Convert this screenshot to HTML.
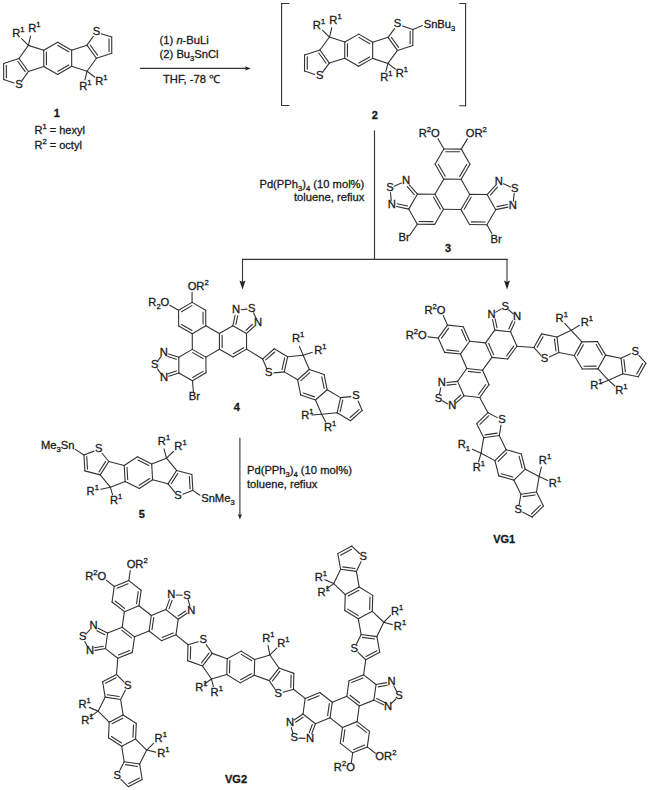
<!DOCTYPE html><html><head><meta charset="utf-8"><style>html,body{margin:0;padding:0;background:#fff;width:650px;height:790px;overflow:hidden}svg{display:block}</style></head><body><svg width="650" height="790" viewBox="0 0 650 790"><g stroke="#333" stroke-width="1.1" stroke-linecap="round" fill="none"><line x1="57.65" y1="42.21" x2="71.63" y2="50.22"/><line x1="57.87" y1="45.45" x2="68.73" y2="51.67"/><line x1="71.63" y1="50.22" x2="71.68" y2="66.34"/><line x1="71.68" y1="66.34" x2="57.75" y2="74.44"/><line x1="68.77" y1="64.91" x2="57.95" y2="71.20"/><line x1="57.75" y1="74.44" x2="43.77" y2="66.43"/><line x1="43.77" y1="66.43" x2="43.72" y2="50.31"/><line x1="46.46" y1="64.62" x2="46.42" y2="52.10"/><line x1="43.72" y1="50.31" x2="57.65" y2="42.21"/><line x1="43.72" y1="50.31" x2="28.38" y2="45.38"/><line x1="28.38" y1="45.38" x2="18.95" y2="58.45"/><line x1="18.95" y1="58.45" x2="28.46" y2="71.46"/><line x1="17.83" y1="61.50" x2="25.22" y2="71.60"/><line x1="28.46" y1="71.46" x2="43.77" y2="66.43"/><line x1="28.46" y1="71.46" x2="22.07" y2="80.31"/><line x1="14.08" y1="82.93" x2="3.69" y2="79.59"/><line x1="3.69" y1="79.59" x2="3.64" y2="63.48"/><line x1="6.38" y1="77.79" x2="6.34" y2="65.27"/><line x1="3.64" y1="63.48" x2="18.95" y2="58.45"/><line x1="71.68" y1="66.34" x2="87.02" y2="71.27"/><line x1="87.02" y1="71.27" x2="96.45" y2="58.20"/><line x1="96.45" y1="58.20" x2="86.94" y2="45.19"/><line x1="97.57" y1="55.15" x2="90.18" y2="45.05"/><line x1="86.94" y1="45.19" x2="71.63" y2="50.22"/><line x1="86.94" y1="45.19" x2="93.33" y2="36.34"/><line x1="101.32" y1="33.72" x2="111.71" y2="37.06"/><line x1="111.71" y1="37.06" x2="111.76" y2="53.17"/><line x1="109.02" y1="38.86" x2="109.06" y2="51.38"/><line x1="111.76" y1="53.17" x2="96.45" y2="58.20"/><line x1="28.38" y1="45.38" x2="21.59" y2="38.59"/><line x1="28.38" y1="45.38" x2="30.60" y2="36.04"/><line x1="87.02" y1="71.27" x2="84.91" y2="79.97"/><line x1="87.02" y1="71.27" x2="94.63" y2="77.06"/><line x1="358.79" y1="34.11" x2="372.70" y2="42.25"/><line x1="358.98" y1="37.35" x2="369.78" y2="43.67"/><line x1="372.70" y1="42.25" x2="372.61" y2="58.36"/><line x1="372.61" y1="58.36" x2="358.61" y2="66.34"/><line x1="369.71" y1="56.91" x2="358.84" y2="63.10"/><line x1="358.61" y1="66.34" x2="344.70" y2="58.20"/><line x1="344.70" y1="58.20" x2="344.79" y2="42.09"/><line x1="347.41" y1="56.42" x2="347.48" y2="43.91"/><line x1="344.79" y1="42.09" x2="358.79" y2="34.11"/><line x1="344.79" y1="42.09" x2="329.49" y2="37.02"/><line x1="329.49" y1="37.02" x2="319.95" y2="50.01"/><line x1="319.95" y1="50.01" x2="329.35" y2="63.10"/><line x1="318.81" y1="53.04" x2="326.10" y2="63.21"/><line x1="329.35" y1="63.10" x2="344.70" y2="58.20"/><line x1="329.35" y1="63.10" x2="322.88" y2="71.89"/><line x1="314.87" y1="74.45" x2="304.51" y2="71.02"/><line x1="304.51" y1="71.02" x2="304.60" y2="54.90"/><line x1="307.22" y1="69.23" x2="307.29" y2="56.72"/><line x1="304.60" y1="54.90" x2="319.95" y2="50.01"/><line x1="372.61" y1="58.36" x2="387.91" y2="63.43"/><line x1="387.91" y1="63.43" x2="397.45" y2="50.44"/><line x1="397.45" y1="50.44" x2="388.05" y2="37.35"/><line x1="398.59" y1="47.41" x2="391.30" y2="37.24"/><line x1="388.05" y1="37.35" x2="372.70" y2="42.25"/><line x1="388.05" y1="37.35" x2="394.52" y2="28.56"/><line x1="402.53" y1="26.00" x2="412.89" y2="29.43"/><line x1="412.89" y1="29.43" x2="412.80" y2="45.55"/><line x1="410.18" y1="31.22" x2="410.11" y2="43.73"/><line x1="412.80" y1="45.55" x2="397.45" y2="50.44"/><line x1="329.49" y1="37.02" x2="322.60" y2="30.34"/><line x1="329.49" y1="37.02" x2="331.77" y2="27.70"/><line x1="387.91" y1="63.43" x2="385.87" y2="71.48"/><line x1="387.91" y1="63.43" x2="395.24" y2="69.05"/><line x1="412.89" y1="29.43" x2="422.50" y2="25.60"/><line x1="460.93" y1="209.43" x2="443.52" y2="209.32"/><line x1="434.92" y1="194.19" x2="443.72" y2="179.17"/><line x1="461.13" y1="179.28" x2="469.73" y2="194.42"/><line x1="443.72" y1="179.17" x2="461.13" y2="179.28"/><line x1="443.91" y1="149.02" x2="461.32" y2="149.13"/><line x1="445.70" y1="151.73" x2="459.50" y2="151.82"/><line x1="461.32" y1="149.13" x2="469.93" y2="164.27"/><line x1="469.93" y1="164.27" x2="461.13" y2="179.28"/><line x1="466.69" y1="164.45" x2="459.71" y2="176.37"/><line x1="443.72" y1="179.17" x2="435.11" y2="164.04"/><line x1="445.18" y1="176.27" x2="438.35" y2="164.27"/><line x1="435.11" y1="164.04" x2="443.91" y2="149.02"/><line x1="434.92" y1="194.19" x2="443.52" y2="209.32"/><line x1="433.46" y1="197.09" x2="440.29" y2="209.09"/><line x1="443.52" y1="209.32" x2="434.72" y2="224.34"/><line x1="434.72" y1="224.34" x2="417.32" y2="224.23"/><line x1="432.94" y1="221.63" x2="419.13" y2="221.54"/><line x1="417.32" y1="224.23" x2="408.71" y2="209.10"/><line x1="408.71" y1="209.10" x2="417.51" y2="194.08"/><line x1="417.51" y1="194.08" x2="434.92" y2="194.19"/><line x1="460.93" y1="209.43" x2="469.73" y2="194.42"/><line x1="464.17" y1="209.25" x2="471.15" y2="197.33"/><line x1="469.73" y1="194.42" x2="487.14" y2="194.53"/><line x1="487.14" y1="194.53" x2="495.74" y2="209.66"/><line x1="495.74" y1="209.66" x2="486.94" y2="224.68"/><line x1="486.94" y1="224.68" x2="469.54" y2="224.57"/><line x1="485.16" y1="221.97" x2="471.35" y2="221.88"/><line x1="469.54" y1="224.57" x2="460.93" y2="209.43"/><line x1="417.51" y1="194.08" x2="409.27" y2="184.80"/><line x1="414.30" y1="194.53" x2="407.25" y2="186.60"/><line x1="408.71" y1="209.10" x2="396.59" y2="206.44"/><line x1="407.53" y1="206.07" x2="397.17" y2="203.80"/><line x1="401.37" y1="183.07" x2="394.21" y2="186.20"/><line x1="391.22" y1="200.39" x2="390.45" y2="192.62"/><line x1="487.14" y1="194.53" x2="495.50" y2="185.36"/><line x1="490.35" y1="195.02" x2="497.50" y2="187.18"/><line x1="495.74" y1="209.66" x2="507.90" y2="207.16"/><line x1="496.96" y1="206.65" x2="507.35" y2="204.51"/><line x1="503.42" y1="183.73" x2="510.54" y2="186.95"/><line x1="513.35" y1="201.18" x2="514.22" y2="193.42"/><line x1="417.32" y1="224.23" x2="409.80" y2="235.30"/><line x1="486.94" y1="224.68" x2="491.80" y2="233.50"/><line x1="443.91" y1="149.02" x2="438.03" y2="138.67"/><line x1="461.32" y1="149.13" x2="467.34" y2="138.86"/><line x1="219.46" y1="349.24" x2="205.93" y2="357.14"/><line x1="192.32" y1="349.38" x2="192.25" y2="333.71"/><line x1="205.78" y1="325.81" x2="219.38" y2="333.58"/><line x1="192.25" y1="333.71" x2="205.78" y2="325.81"/><line x1="178.57" y1="310.28" x2="192.09" y2="302.38"/><line x1="181.48" y1="311.71" x2="191.90" y2="305.62"/><line x1="192.09" y1="302.38" x2="205.70" y2="310.15"/><line x1="205.70" y1="310.15" x2="205.78" y2="325.81"/><line x1="203.01" y1="311.96" x2="203.07" y2="324.03"/><line x1="192.25" y1="333.71" x2="178.64" y2="325.95"/><line x1="192.02" y1="330.47" x2="181.55" y2="324.49"/><line x1="178.64" y1="325.95" x2="178.57" y2="310.28"/><line x1="192.32" y1="349.38" x2="205.93" y2="357.14"/><line x1="192.55" y1="352.61" x2="203.03" y2="358.59"/><line x1="205.93" y1="357.14" x2="206.00" y2="372.81"/><line x1="206.00" y1="372.81" x2="192.48" y2="380.70"/><line x1="203.09" y1="371.38" x2="192.67" y2="377.46"/><line x1="192.48" y1="380.70" x2="178.87" y2="372.94"/><line x1="178.87" y1="372.94" x2="178.80" y2="357.27"/><line x1="178.80" y1="357.27" x2="192.32" y2="349.38"/><line x1="219.46" y1="349.24" x2="219.38" y2="333.58"/><line x1="222.15" y1="347.43" x2="222.09" y2="335.37"/><line x1="219.38" y1="333.58" x2="232.91" y2="325.68"/><line x1="232.91" y1="325.68" x2="246.51" y2="333.45"/><line x1="246.51" y1="333.45" x2="246.59" y2="349.11"/><line x1="246.59" y1="349.11" x2="233.06" y2="357.01"/><line x1="243.67" y1="347.69" x2="233.25" y2="353.77"/><line x1="233.06" y1="357.01" x2="219.46" y2="349.24"/><line x1="178.80" y1="357.27" x2="168.64" y2="354.03"/><line x1="176.26" y1="359.30" x2="167.82" y2="356.60"/><line x1="178.87" y1="372.94" x2="168.75" y2="376.28"/><line x1="176.32" y1="370.94" x2="167.90" y2="373.72"/><line x1="160.96" y1="356.56" x2="157.42" y2="361.49"/><line x1="161.04" y1="373.82" x2="157.45" y2="368.93"/><line x1="232.91" y1="325.68" x2="235.07" y2="315.24"/><line x1="235.92" y1="324.47" x2="237.72" y2="315.79"/><line x1="246.51" y1="333.45" x2="254.40" y2="326.27"/><line x1="246.03" y1="330.24" x2="252.58" y2="324.27"/><line x1="241.06" y1="309.80" x2="247.09" y2="309.13"/><line x1="256.04" y1="318.35" x2="253.55" y2="312.82"/><line x1="192.48" y1="380.70" x2="193.40" y2="392.30"/><line x1="178.57" y1="310.28" x2="169.74" y2="305.24"/><line x1="192.09" y1="302.38" x2="192.05" y2="292.22"/><line x1="324.07" y1="374.46" x2="327.15" y2="389.72"/><line x1="321.78" y1="376.76" x2="324.15" y2="388.48"/><line x1="327.15" y1="389.72" x2="315.47" y2="400.00"/><line x1="315.47" y1="400.00" x2="300.73" y2="395.04"/><line x1="314.63" y1="396.87" x2="303.29" y2="393.05"/><line x1="300.73" y1="395.04" x2="297.65" y2="379.78"/><line x1="297.65" y1="379.78" x2="309.33" y2="369.50"/><line x1="300.79" y1="380.62" x2="309.76" y2="372.71"/><line x1="309.33" y1="369.50" x2="324.07" y2="374.46"/><line x1="309.33" y1="369.50" x2="303.15" y2="355.21"/><line x1="303.15" y1="355.21" x2="287.66" y2="356.68"/><line x1="287.66" y1="356.68" x2="284.26" y2="371.86"/><line x1="284.63" y1="357.84" x2="282.02" y2="369.52"/><line x1="284.26" y1="371.86" x2="297.65" y2="379.78"/><line x1="284.26" y1="371.86" x2="273.94" y2="372.84"/><line x1="266.70" y1="368.55" x2="262.59" y2="359.04"/><line x1="262.59" y1="359.04" x2="274.26" y2="348.75"/><line x1="265.72" y1="359.88" x2="274.70" y2="351.97"/><line x1="274.26" y1="348.75" x2="287.66" y2="356.68"/><line x1="315.47" y1="400.00" x2="321.65" y2="414.29"/><line x1="321.65" y1="414.29" x2="337.14" y2="412.82"/><line x1="337.14" y1="412.82" x2="340.54" y2="397.64"/><line x1="340.17" y1="411.66" x2="342.78" y2="399.98"/><line x1="340.54" y1="397.64" x2="327.15" y2="389.72"/><line x1="340.54" y1="397.64" x2="350.86" y2="396.66"/><line x1="358.10" y1="400.95" x2="362.21" y2="410.46"/><line x1="362.21" y1="410.46" x2="350.54" y2="420.75"/><line x1="359.08" y1="409.62" x2="350.10" y2="417.53"/><line x1="350.54" y1="420.75" x2="337.14" y2="412.82"/><line x1="303.15" y1="355.21" x2="299.46" y2="346.35"/><line x1="303.15" y1="355.21" x2="312.31" y2="352.34"/><line x1="321.65" y1="414.29" x2="312.07" y2="414.95"/><line x1="321.65" y1="414.29" x2="325.44" y2="421.57"/><line x1="246.59" y1="349.11" x2="262.59" y2="359.04"/><line x1="139.33" y1="488.54" x2="152.60" y2="479.81"/><line x1="139.35" y1="485.30" x2="149.62" y2="478.54"/><line x1="152.60" y1="479.81" x2="151.68" y2="463.94"/><line x1="151.68" y1="463.94" x2="137.47" y2="456.81"/><line x1="148.86" y1="465.55" x2="137.87" y2="460.03"/><line x1="137.47" y1="456.81" x2="124.20" y2="465.54"/><line x1="124.20" y1="465.54" x2="125.12" y2="481.41"/><line x1="127.00" y1="467.18" x2="127.71" y2="479.46"/><line x1="125.12" y1="481.41" x2="139.33" y2="488.54"/><line x1="125.12" y1="481.41" x2="110.32" y2="487.19"/><line x1="110.32" y1="487.19" x2="100.24" y2="474.90"/><line x1="100.24" y1="474.90" x2="108.82" y2="461.52"/><line x1="98.94" y1="471.93" x2="105.58" y2="461.58"/><line x1="108.82" y1="461.52" x2="124.20" y2="465.54"/><line x1="108.82" y1="461.52" x2="102.04" y2="453.25"/><line x1="93.90" y1="451.12" x2="83.94" y2="455.01"/><line x1="83.94" y1="455.01" x2="84.87" y2="470.88"/><line x1="86.74" y1="456.65" x2="87.46" y2="468.92"/><line x1="84.87" y1="470.88" x2="100.24" y2="474.90"/><line x1="151.68" y1="463.94" x2="166.48" y2="458.16"/><line x1="166.48" y1="458.16" x2="176.56" y2="470.45"/><line x1="176.56" y1="470.45" x2="167.98" y2="483.83"/><line x1="177.86" y1="473.42" x2="171.22" y2="483.77"/><line x1="167.98" y1="483.83" x2="152.60" y2="479.81"/><line x1="167.98" y1="483.83" x2="174.76" y2="492.10"/><line x1="182.90" y1="494.23" x2="192.86" y2="490.34"/><line x1="192.86" y1="490.34" x2="191.93" y2="474.47"/><line x1="190.06" y1="488.70" x2="189.34" y2="476.43"/><line x1="191.93" y1="474.47" x2="176.56" y2="470.45"/><line x1="110.32" y1="487.19" x2="100.94" y2="489.26"/><line x1="110.32" y1="487.19" x2="112.51" y2="494.64"/><line x1="166.48" y1="458.16" x2="164.04" y2="448.87"/><line x1="166.48" y1="458.16" x2="173.40" y2="451.50"/><line x1="83.94" y1="455.01" x2="75.20" y2="449.40"/><line x1="192.86" y1="490.34" x2="199.90" y2="495.20"/><line x1="491.90" y1="357.38" x2="482.59" y2="370.19"/><line x1="466.84" y1="368.54" x2="460.40" y2="354.07"/><line x1="469.71" y1="341.25" x2="485.46" y2="342.91"/><line x1="460.40" y1="354.07" x2="469.71" y2="341.25"/><line x1="438.21" y1="337.94" x2="447.52" y2="325.13"/><line x1="441.45" y1="338.07" x2="448.65" y2="328.17"/><line x1="447.52" y1="325.13" x2="463.27" y2="326.78"/><line x1="463.27" y1="326.78" x2="469.71" y2="341.25"/><line x1="461.54" y1="329.53" x2="466.51" y2="340.71"/><line x1="460.40" y1="354.07" x2="444.65" y2="352.41"/><line x1="458.89" y1="351.19" x2="446.72" y2="349.91"/><line x1="444.65" y1="352.41" x2="438.21" y2="337.94"/><line x1="466.84" y1="368.54" x2="482.59" y2="370.19"/><line x1="468.35" y1="371.41" x2="480.52" y2="372.69"/><line x1="482.59" y1="370.19" x2="489.03" y2="384.66"/><line x1="489.03" y1="384.66" x2="479.72" y2="397.48"/><line x1="485.79" y1="384.53" x2="478.59" y2="394.43"/><line x1="479.72" y1="397.48" x2="463.97" y2="395.82"/><line x1="463.97" y1="395.82" x2="457.53" y2="381.35"/><line x1="457.53" y1="381.35" x2="466.84" y2="368.54"/><line x1="491.90" y1="357.38" x2="485.46" y2="342.91"/><line x1="493.64" y1="354.64" x2="488.66" y2="343.46"/><line x1="485.46" y1="342.91" x2="494.77" y2="330.10"/><line x1="494.77" y1="330.10" x2="510.52" y2="331.76"/><line x1="510.52" y1="331.76" x2="516.96" y2="346.23"/><line x1="516.96" y1="346.23" x2="507.65" y2="359.04"/><line x1="513.72" y1="346.10" x2="506.53" y2="356.00"/><line x1="507.65" y1="359.04" x2="491.90" y2="357.38"/><line x1="457.53" y1="381.35" x2="446.75" y2="382.48"/><line x1="456.02" y1="384.22" x2="447.03" y2="385.16"/><line x1="463.97" y1="395.82" x2="455.91" y2="403.07"/><line x1="460.82" y1="395.02" x2="454.11" y2="401.06"/><line x1="440.74" y1="387.89" x2="439.44" y2="393.99"/><line x1="447.87" y1="403.91" x2="442.46" y2="400.79"/><line x1="494.77" y1="330.10" x2="492.52" y2="319.50"/><line x1="497.04" y1="327.78" x2="495.16" y2="318.94"/><line x1="510.52" y1="331.76" x2="514.93" y2="321.86"/><line x1="508.79" y1="329.02" x2="512.47" y2="320.76"/><line x1="495.81" y1="312.11" x2="501.21" y2="308.99"/><line x1="513.25" y1="313.94" x2="508.62" y2="309.77"/><line x1="438.21" y1="337.94" x2="427.93" y2="336.86"/><line x1="447.52" y1="325.13" x2="443.32" y2="315.68"/><line x1="597.58" y1="341.66" x2="605.61" y2="355.14"/><line x1="596.19" y1="344.58" x2="602.37" y2="354.97"/><line x1="605.61" y1="355.14" x2="597.96" y2="368.83"/><line x1="597.96" y1="368.83" x2="582.27" y2="369.04"/><line x1="596.12" y1="366.16" x2="584.03" y2="366.32"/><line x1="582.27" y1="369.04" x2="574.24" y2="355.56"/><line x1="574.24" y1="355.56" x2="581.89" y2="341.87"/><line x1="577.47" y1="355.31" x2="583.37" y2="344.76"/><line x1="581.89" y1="341.87" x2="597.58" y2="341.66"/><line x1="581.89" y1="341.87" x2="571.24" y2="330.35"/><line x1="571.24" y1="330.35" x2="556.99" y2="336.93"/><line x1="556.99" y1="336.93" x2="558.84" y2="352.51"/><line x1="554.52" y1="339.04" x2="555.95" y2="351.04"/><line x1="558.84" y1="352.51" x2="574.24" y2="355.56"/><line x1="558.84" y1="352.51" x2="549.32" y2="356.91"/><line x1="541.07" y1="355.27" x2="533.94" y2="347.57"/><line x1="533.94" y1="347.57" x2="541.60" y2="333.88"/><line x1="537.17" y1="347.32" x2="543.08" y2="336.77"/><line x1="541.60" y1="333.88" x2="556.99" y2="336.93"/><line x1="597.96" y1="368.83" x2="608.61" y2="380.35"/><line x1="608.61" y1="380.35" x2="622.86" y2="373.77"/><line x1="622.86" y1="373.77" x2="621.01" y2="358.19"/><line x1="625.33" y1="371.66" x2="623.90" y2="359.66"/><line x1="621.01" y1="358.19" x2="605.61" y2="355.14"/><line x1="621.01" y1="358.19" x2="630.53" y2="353.79"/><line x1="638.78" y1="355.43" x2="645.91" y2="363.13"/><line x1="645.91" y1="363.13" x2="638.25" y2="376.82"/><line x1="642.68" y1="363.38" x2="636.77" y2="373.93"/><line x1="638.25" y1="376.82" x2="622.86" y2="373.77"/><line x1="571.24" y1="330.35" x2="564.69" y2="323.33"/><line x1="571.24" y1="330.35" x2="579.36" y2="325.24"/><line x1="608.61" y1="380.35" x2="600.03" y2="383.52"/><line x1="608.61" y1="380.35" x2="614.93" y2="386.00"/><line x1="516.96" y1="346.23" x2="533.94" y2="347.57"/><line x1="498.81" y1="475.88" x2="513.95" y2="480.14"/><line x1="501.28" y1="473.77" x2="512.95" y2="477.06"/><line x1="513.95" y1="480.14" x2="525.21" y2="469.17"/><line x1="525.21" y1="469.17" x2="521.34" y2="453.92"/><line x1="522.15" y1="468.09" x2="519.16" y2="456.33"/><line x1="521.34" y1="453.92" x2="506.20" y2="449.66"/><line x1="506.20" y1="449.66" x2="494.94" y2="460.63"/><line x1="506.80" y1="452.85" x2="498.11" y2="461.31"/><line x1="494.94" y1="460.63" x2="498.81" y2="475.88"/><line x1="494.94" y1="460.63" x2="481.02" y2="453.31"/><line x1="481.02" y1="453.31" x2="483.68" y2="437.81"/><line x1="483.68" y1="437.81" x2="499.24" y2="435.55"/><line x1="485.07" y1="434.88" x2="497.07" y2="433.14"/><line x1="499.24" y1="435.55" x2="506.20" y2="449.66"/><line x1="499.24" y1="435.55" x2="501.02" y2="425.18"/><line x1="497.30" y1="417.63" x2="487.98" y2="412.73"/><line x1="487.98" y1="412.73" x2="476.72" y2="423.71"/><line x1="488.58" y1="415.92" x2="479.89" y2="424.39"/><line x1="476.72" y1="423.71" x2="483.68" y2="437.81"/><line x1="525.21" y1="469.17" x2="539.13" y2="476.49"/><line x1="539.13" y1="476.49" x2="536.47" y2="491.99"/><line x1="536.47" y1="491.99" x2="520.91" y2="494.25"/><line x1="535.08" y1="494.92" x2="523.08" y2="496.66"/><line x1="520.91" y1="494.25" x2="513.95" y2="480.14"/><line x1="520.91" y1="494.25" x2="519.13" y2="504.62"/><line x1="522.85" y1="512.17" x2="532.17" y2="517.07"/><line x1="532.17" y1="517.07" x2="543.43" y2="506.09"/><line x1="531.57" y1="513.88" x2="540.26" y2="505.41"/><line x1="543.43" y1="506.09" x2="536.47" y2="491.99"/><line x1="481.02" y1="453.31" x2="472.28" y2="449.33"/><line x1="481.02" y1="453.31" x2="478.57" y2="461.74"/><line x1="539.13" y1="476.49" x2="541.35" y2="467.15"/><line x1="539.13" y1="476.49" x2="547.68" y2="480.53"/><line x1="479.72" y1="397.48" x2="487.98" y2="412.73"/><line x1="149.09" y1="631.00" x2="134.54" y2="636.85"/><line x1="122.19" y1="627.18" x2="124.40" y2="611.65"/><line x1="138.94" y1="605.80" x2="151.29" y2="615.47"/><line x1="124.40" y1="611.65" x2="138.94" y2="605.80"/><line x1="114.25" y1="586.45" x2="128.80" y2="580.60"/><line x1="116.93" y1="588.29" x2="128.14" y2="583.78"/><line x1="128.80" y1="580.60" x2="141.15" y2="590.27"/><line x1="141.15" y1="590.27" x2="138.94" y2="605.80"/><line x1="138.22" y1="591.67" x2="136.52" y2="603.64"/><line x1="124.40" y1="611.65" x2="112.05" y2="601.98"/><line x1="124.64" y1="608.42" x2="115.13" y2="600.97"/><line x1="112.05" y1="601.98" x2="114.25" y2="586.45"/><line x1="122.19" y1="627.18" x2="134.54" y2="636.85"/><line x1="121.94" y1="630.42" x2="131.46" y2="637.87"/><line x1="134.54" y1="636.85" x2="132.34" y2="652.38"/><line x1="132.34" y1="652.38" x2="117.79" y2="658.23"/><line x1="129.66" y1="650.55" x2="118.45" y2="655.06"/><line x1="117.79" y1="658.23" x2="105.44" y2="648.56"/><line x1="105.44" y1="648.56" x2="107.64" y2="633.04"/><line x1="107.64" y1="633.04" x2="122.19" y2="627.18"/><line x1="149.09" y1="631.00" x2="151.29" y2="615.47"/><line x1="152.01" y1="629.59" x2="153.71" y2="617.63"/><line x1="151.29" y1="615.47" x2="165.84" y2="609.61"/><line x1="165.84" y1="609.61" x2="178.18" y2="619.28"/><line x1="178.18" y1="619.28" x2="175.98" y2="634.81"/><line x1="175.98" y1="634.81" x2="161.43" y2="640.67"/><line x1="173.30" y1="632.98" x2="162.09" y2="637.49"/><line x1="161.43" y1="640.67" x2="149.09" y2="631.00"/><line x1="107.64" y1="633.04" x2="98.05" y2="628.34"/><line x1="104.84" y1="634.67" x2="96.86" y2="630.77"/><line x1="105.44" y1="648.56" x2="94.92" y2="650.40"/><line x1="103.20" y1="646.21" x2="94.45" y2="647.74"/><line x1="90.08" y1="629.73" x2="85.85" y2="634.10"/><line x1="87.65" y1="646.85" x2="84.80" y2="641.47"/><line x1="165.84" y1="609.61" x2="169.51" y2="599.58"/><line x1="168.99" y1="608.85" x2="172.04" y2="600.51"/><line x1="178.18" y1="619.28" x2="187.05" y2="613.32"/><line x1="178.17" y1="616.04" x2="185.54" y2="611.08"/><line x1="176.22" y1="595.06" x2="182.30" y2="595.28"/><line x1="189.83" y1="605.72" x2="188.16" y2="599.87"/><line x1="114.25" y1="586.45" x2="106.24" y2="580.17"/><line x1="128.80" y1="580.60" x2="130.23" y2="570.52"/><line x1="332.23" y1="702.22" x2="346.84" y2="696.32"/><line x1="359.26" y1="706.02" x2="357.07" y2="721.63"/><line x1="342.46" y1="727.53" x2="330.04" y2="717.83"/><line x1="357.07" y1="721.63" x2="342.46" y2="727.53"/><line x1="367.29" y1="746.93" x2="352.68" y2="752.84"/><line x1="364.61" y1="745.10" x2="353.34" y2="749.66"/><line x1="352.68" y1="752.84" x2="340.27" y2="743.13"/><line x1="340.27" y1="743.13" x2="342.46" y2="727.53"/><line x1="343.19" y1="741.73" x2="344.88" y2="729.69"/><line x1="357.07" y1="721.63" x2="369.49" y2="731.33"/><line x1="356.83" y1="724.86" x2="366.41" y2="732.35"/><line x1="369.49" y1="731.33" x2="367.29" y2="746.93"/><line x1="359.26" y1="706.02" x2="346.84" y2="696.32"/><line x1="359.51" y1="702.78" x2="349.93" y2="695.30"/><line x1="346.84" y1="696.32" x2="349.04" y2="680.71"/><line x1="349.04" y1="680.71" x2="363.65" y2="674.81"/><line x1="351.72" y1="682.54" x2="362.99" y2="677.99"/><line x1="363.65" y1="674.81" x2="376.07" y2="684.51"/><line x1="376.07" y1="684.51" x2="373.87" y2="700.12"/><line x1="373.87" y1="700.12" x2="359.26" y2="706.02"/><line x1="332.23" y1="702.22" x2="330.04" y2="717.83"/><line x1="329.31" y1="703.63" x2="327.62" y2="715.67"/><line x1="330.04" y1="717.83" x2="315.43" y2="723.73"/><line x1="315.43" y1="723.73" x2="303.01" y2="714.03"/><line x1="303.01" y1="714.03" x2="305.21" y2="698.42"/><line x1="305.21" y1="698.42" x2="319.82" y2="692.52"/><line x1="307.89" y1="700.25" x2="319.16" y2="695.70"/><line x1="319.82" y1="692.52" x2="332.23" y2="702.22"/><line x1="373.87" y1="700.12" x2="383.54" y2="704.83"/><line x1="376.67" y1="698.48" x2="384.73" y2="702.41"/><line x1="376.07" y1="684.51" x2="386.66" y2="682.64"/><line x1="378.31" y1="686.86" x2="387.13" y2="685.30"/><line x1="391.51" y1="703.43" x2="395.79" y2="699.00"/><line x1="393.93" y1="686.19" x2="396.82" y2="691.63"/><line x1="315.43" y1="723.73" x2="311.75" y2="733.84"/><line x1="312.28" y1="724.50" x2="309.21" y2="732.92"/><line x1="303.01" y1="714.03" x2="294.09" y2="720.05"/><line x1="303.03" y1="717.27" x2="295.60" y2="722.28"/><line x1="305.04" y1="738.36" x2="298.89" y2="738.15"/><line x1="291.33" y1="727.65" x2="293.02" y2="733.57"/><line x1="367.29" y1="746.93" x2="375.38" y2="753.25"/><line x1="352.68" y1="752.84" x2="351.26" y2="762.99"/><line x1="108.49" y1="737.78" x2="121.66" y2="746.24"/><line x1="111.46" y1="736.48" x2="121.61" y2="742.99"/><line x1="121.66" y1="746.24" x2="135.58" y2="739.06"/><line x1="135.58" y1="739.06" x2="136.31" y2="723.42"/><line x1="132.96" y1="737.13" x2="133.53" y2="725.09"/><line x1="136.31" y1="723.42" x2="123.14" y2="714.96"/><line x1="123.14" y1="714.96" x2="109.22" y2="722.14"/><line x1="122.77" y1="718.19" x2="112.06" y2="723.72"/><line x1="109.22" y1="722.14" x2="108.49" y2="737.78"/><line x1="109.22" y1="722.14" x2="98.10" y2="711.13"/><line x1="98.10" y1="711.13" x2="105.13" y2="697.15"/><line x1="105.13" y1="697.15" x2="120.60" y2="699.51"/><line x1="107.32" y1="694.75" x2="119.23" y2="696.57"/><line x1="120.60" y1="699.51" x2="123.14" y2="714.96"/><line x1="120.60" y1="699.51" x2="125.30" y2="690.17"/><line x1="123.94" y1="681.87" x2="116.51" y2="674.51"/><line x1="116.51" y1="674.51" x2="102.60" y2="681.70"/><line x1="116.15" y1="677.74" x2="105.43" y2="683.27"/><line x1="102.60" y1="681.70" x2="105.13" y2="697.15"/><line x1="135.58" y1="739.06" x2="146.70" y2="750.07"/><line x1="146.70" y1="750.07" x2="139.67" y2="764.05"/><line x1="139.67" y1="764.05" x2="124.20" y2="761.69"/><line x1="137.48" y1="766.45" x2="125.57" y2="764.63"/><line x1="124.20" y1="761.69" x2="121.66" y2="746.24"/><line x1="124.20" y1="761.69" x2="119.50" y2="771.03"/><line x1="120.86" y1="779.33" x2="128.29" y2="786.69"/><line x1="128.29" y1="786.69" x2="142.20" y2="779.50"/><line x1="128.65" y1="783.46" x2="139.37" y2="777.93"/><line x1="142.20" y1="779.50" x2="139.67" y2="764.05"/><line x1="98.10" y1="711.13" x2="89.26" y2="707.38"/><line x1="98.10" y1="711.13" x2="90.36" y2="716.42"/><line x1="146.70" y1="750.07" x2="153.53" y2="743.32"/><line x1="146.70" y1="750.07" x2="155.66" y2="752.14"/><line x1="117.79" y1="658.23" x2="116.51" y2="674.51"/><line x1="240.29" y1="682.88" x2="254.26" y2="675.32"/><line x1="240.59" y1="679.65" x2="251.39" y2="673.80"/><line x1="254.26" y1="675.32" x2="254.70" y2="659.44"/><line x1="254.70" y1="659.44" x2="241.16" y2="651.12"/><line x1="251.75" y1="660.80" x2="241.28" y2="654.36"/><line x1="241.16" y1="651.12" x2="227.19" y2="658.68"/><line x1="227.19" y1="658.68" x2="226.75" y2="674.56"/><line x1="229.84" y1="660.55" x2="229.50" y2="672.84"/><line x1="226.75" y1="674.56" x2="240.29" y2="682.88"/><line x1="226.75" y1="674.56" x2="211.52" y2="679.05"/><line x1="211.52" y1="679.05" x2="202.54" y2="665.95"/><line x1="202.54" y1="665.95" x2="212.22" y2="653.36"/><line x1="201.49" y1="662.87" x2="208.99" y2="653.14"/><line x1="212.22" y1="653.36" x2="227.19" y2="658.68"/><line x1="212.22" y1="653.36" x2="206.18" y2="644.54"/><line x1="198.26" y1="641.72" x2="188.01" y2="644.74"/><line x1="188.01" y1="644.74" x2="187.57" y2="660.62"/><line x1="190.66" y1="646.62" x2="190.32" y2="658.90"/><line x1="187.57" y1="660.62" x2="202.54" y2="665.95"/><line x1="254.70" y1="659.44" x2="269.93" y2="654.95"/><line x1="269.93" y1="654.95" x2="278.91" y2="668.05"/><line x1="278.91" y1="668.05" x2="269.23" y2="680.64"/><line x1="279.96" y1="671.13" x2="272.46" y2="680.86"/><line x1="269.23" y1="680.64" x2="254.26" y2="675.32"/><line x1="269.23" y1="680.64" x2="275.27" y2="689.46"/><line x1="283.19" y1="692.28" x2="293.44" y2="689.26"/><line x1="293.44" y1="689.26" x2="293.88" y2="673.38"/><line x1="290.79" y1="687.38" x2="291.13" y2="675.10"/><line x1="293.88" y1="673.38" x2="278.91" y2="668.05"/><line x1="211.52" y1="679.05" x2="204.32" y2="684.07"/><line x1="211.52" y1="679.05" x2="213.35" y2="686.38"/><line x1="269.93" y1="654.95" x2="268.02" y2="645.54"/><line x1="269.93" y1="654.95" x2="276.76" y2="648.19"/><line x1="175.98" y1="634.81" x2="188.01" y2="644.74"/><line x1="305.21" y1="698.42" x2="293.44" y2="689.26"/><line x1="344.75" y1="610.46" x2="358.28" y2="618.81"/><line x1="347.71" y1="609.11" x2="358.16" y2="615.57"/><line x1="358.28" y1="618.81" x2="372.27" y2="611.28"/><line x1="372.27" y1="611.28" x2="372.75" y2="595.39"/><line x1="369.63" y1="609.40" x2="369.99" y2="597.11"/><line x1="372.75" y1="595.39" x2="359.22" y2="587.04"/><line x1="359.22" y1="587.04" x2="345.23" y2="594.57"/><line x1="358.92" y1="590.27" x2="348.09" y2="596.10"/><line x1="345.23" y1="594.57" x2="344.75" y2="610.46"/><line x1="345.23" y1="594.57" x2="333.74" y2="583.59"/><line x1="333.74" y1="583.59" x2="340.63" y2="569.27"/><line x1="340.63" y1="569.27" x2="356.38" y2="571.40"/><line x1="342.78" y1="566.83" x2="354.96" y2="568.48"/><line x1="356.38" y1="571.40" x2="359.22" y2="587.04"/><line x1="356.38" y1="571.40" x2="361.02" y2="561.76"/><line x1="359.52" y1="553.49" x2="351.79" y2="546.10"/><line x1="351.79" y1="546.10" x2="337.79" y2="553.63"/><line x1="351.48" y1="549.33" x2="340.66" y2="555.15"/><line x1="337.79" y1="553.63" x2="340.63" y2="569.27"/><line x1="372.27" y1="611.28" x2="383.76" y2="622.26"/><line x1="383.76" y1="622.26" x2="376.87" y2="636.58"/><line x1="376.87" y1="636.58" x2="361.12" y2="634.45"/><line x1="374.72" y1="639.02" x2="362.54" y2="637.37"/><line x1="361.12" y1="634.45" x2="358.28" y2="618.81"/><line x1="361.12" y1="634.45" x2="356.48" y2="644.09"/><line x1="357.98" y1="652.36" x2="365.71" y2="659.75"/><line x1="365.71" y1="659.75" x2="379.71" y2="652.22"/><line x1="366.02" y1="656.52" x2="376.84" y2="650.70"/><line x1="379.71" y1="652.22" x2="376.87" y2="636.58"/><line x1="333.74" y1="583.59" x2="324.95" y2="579.72"/><line x1="333.74" y1="583.59" x2="326.56" y2="588.78"/><line x1="383.76" y1="622.26" x2="390.54" y2="615.47"/><line x1="383.76" y1="622.26" x2="392.31" y2="624.61"/><line x1="363.65" y1="674.81" x2="365.71" y2="659.75"/><line x1="140.40" y1="68.40" x2="246.00" y2="68.40"/><line x1="289.00" y1="3.50" x2="281.60" y2="3.50"/><line x1="281.60" y1="3.50" x2="281.60" y2="105.50"/><line x1="281.60" y1="105.50" x2="289.00" y2="105.50"/><line x1="459.70" y1="3.50" x2="465.60" y2="3.50"/><line x1="465.60" y1="3.50" x2="465.60" y2="105.80"/><line x1="465.60" y1="105.80" x2="459.70" y2="105.80"/><line x1="374.50" y1="130.80" x2="374.50" y2="258.80"/><line x1="242.50" y1="259.40" x2="507.00" y2="259.40"/><line x1="242.50" y1="259.40" x2="242.50" y2="281.90"/><line x1="507.00" y1="259.40" x2="507.00" y2="281.90"/><line x1="239.90" y1="438.10" x2="239.90" y2="515.00"/></g><g fill="#222"><path d="M250.80,68.40 L245.00,66.30 L246.00,68.40 L245.00,70.50 Z"/><path d="M242.50,289.60 L239.50,280.60 L242.50,281.90 L245.50,280.60 Z"/><path d="M507.00,289.60 L504.00,280.60 L507.00,281.90 L510.00,280.60 Z"/><path d="M239.90,519.50 L237.80,514.00 L239.90,515.00 L242.00,514.00 Z"/></g><g fill="#1a1a1a" stroke="#1a1a1a" stroke-width="0.3" font-family="'Liberation Sans', sans-serif"><text x="19.03" y="87.58" font-size="11.2" text-anchor="middle">S</text><text x="96.37" y="35.18" font-size="11.2" text-anchor="middle">S</text><text x="12.26" y="37.35" font-size="11.2">R<tspan font-size="7.6" baseline-shift="5">1</tspan></text><text x="28.16" y="32.35" font-size="11.2">R<tspan font-size="7.6" baseline-shift="5">1</tspan></text><text x="79.26" y="89.65" font-size="11.2">R<tspan font-size="7.6" baseline-shift="5">1</tspan></text><text x="95.16" y="84.55" font-size="11.2">R<tspan font-size="7.6" baseline-shift="5">1</tspan></text><text x="319.80" y="79.13" font-size="11.2" text-anchor="middle">S</text><text x="397.60" y="27.42" font-size="11.2" text-anchor="middle">S</text><text x="312.86" y="28.85" font-size="11.2">R<tspan font-size="7.6" baseline-shift="5">1</tspan></text><text x="329.36" y="24.05" font-size="11.2">R<tspan font-size="7.6" baseline-shift="5">1</tspan></text><text x="380.16" y="81.15" font-size="11.2">R<tspan font-size="7.6" baseline-shift="5">1</tspan></text><text x="395.76" y="76.55" font-size="11.2">R<tspan font-size="7.6" baseline-shift="5">1</tspan></text><text x="423.7" y="27.9" font-size="11.2">SnBu<tspan font-size="7.6" baseline-shift="-2.8">3</tspan></text><text x="405.95" y="184.12" font-size="11.2" text-anchor="middle">N</text><text x="391.71" y="208.42" font-size="11.2" text-anchor="middle">N</text><text x="390.00" y="191.10" font-size="11.2" text-anchor="middle">S</text><text x="498.87" y="184.72" font-size="11.2" text-anchor="middle">N</text><text x="512.80" y="209.20" font-size="11.2" text-anchor="middle">N</text><text x="514.73" y="191.90" font-size="11.2" text-anchor="middle">S</text><text x="398.48" y="241.35" font-size="11.2">Br</text><text x="490.48" y="242.85" font-size="11.2">Br</text><text x="439.66" y="136.94" font-size="11.2" text-anchor="end">R<tspan font-size="7.6" baseline-shift="5">2</tspan>O</text><text x="465.77" y="137.17" font-size="11.2">OR<tspan font-size="7.6" baseline-shift="5">2</tspan></text><text x="163.88" y="355.56" font-size="11.2" text-anchor="middle">N</text><text x="164.00" y="380.90" font-size="11.2" text-anchor="middle">N</text><text x="154.73" y="368.28" font-size="11.2" text-anchor="middle">S</text><text x="236.09" y="313.40" font-size="11.2" text-anchor="middle">N</text><text x="258.10" y="325.96" font-size="11.2" text-anchor="middle">N</text><text x="251.66" y="311.68" font-size="11.2" text-anchor="middle">S</text><text x="188.78" y="400.35" font-size="11.2">Br</text><text x="169.32" y="305.57" font-size="11.2" text-anchor="end">R<tspan font-size="7.6" baseline-shift="-2.8">2</tspan>O</text><text x="187.66" y="289.77" font-size="11.2">OR<tspan font-size="7.6" baseline-shift="5">2</tspan></text><text x="268.77" y="376.38" font-size="11.2" text-anchor="middle">S</text><text x="356.03" y="399.23" font-size="11.2" text-anchor="middle">S</text><text x="291.96" y="342.35" font-size="11.2">R<tspan font-size="7.6" baseline-shift="5">1</tspan></text><text x="314.26" y="354.25" font-size="11.2">R<tspan font-size="7.6" baseline-shift="5">1</tspan></text><text x="301.26" y="419.25" font-size="11.2">R<tspan font-size="7.6" baseline-shift="5">1</tspan></text><text x="323.96" y="430.75" font-size="11.2">R<tspan font-size="7.6" baseline-shift="5">1</tspan></text><text x="98.75" y="452.28" font-size="11.2" text-anchor="middle">S</text><text x="178.05" y="499.17" font-size="11.2" text-anchor="middle">S</text><text x="86.56" y="495.35" font-size="11.2">R<tspan font-size="7.6" baseline-shift="5">1</tspan></text><text x="109.96" y="504.25" font-size="11.2">R<tspan font-size="7.6" baseline-shift="5">1</tspan></text><text x="157.86" y="445.35" font-size="11.2">R<tspan font-size="7.6" baseline-shift="5">1</tspan></text><text x="174.36" y="450.35" font-size="11.2">R<tspan font-size="7.6" baseline-shift="5">1</tspan></text><text x="74.5" y="448.9" font-size="11.2" text-anchor="end">Me<tspan font-size="7.6" baseline-shift="-2.8">3</tspan>Sn</text><text x="201.2" y="502.2" font-size="11.2">SnMe<tspan font-size="7.6" baseline-shift="-2.8">3</tspan></text><text x="441.78" y="386.05" font-size="11.2" text-anchor="middle">N</text><text x="452.20" y="409.47" font-size="11.2" text-anchor="middle">N</text><text x="438.48" y="401.55" font-size="11.2" text-anchor="middle">S</text><text x="491.48" y="317.66" font-size="11.2" text-anchor="middle">N</text><text x="516.97" y="320.34" font-size="11.2" text-anchor="middle">N</text><text x="505.20" y="309.74" font-size="11.2" text-anchor="middle">S</text><text x="426.81" y="339.33" font-size="11.2" text-anchor="end">R<tspan font-size="7.6" baseline-shift="5">2</tspan>O</text><text x="445.44" y="313.71" font-size="11.2" text-anchor="end">R<tspan font-size="7.6" baseline-shift="5">2</tspan>O</text><text x="544.60" y="362.14" font-size="11.2" text-anchor="middle">S</text><text x="635.25" y="354.66" font-size="11.2" text-anchor="middle">S</text><text x="555.56" y="321.95" font-size="11.2">R<tspan font-size="7.6" baseline-shift="5">1</tspan></text><text x="580.76" y="325.55" font-size="11.2">R<tspan font-size="7.6" baseline-shift="5">1</tspan></text><text x="590.16" y="389.45" font-size="11.2">R<tspan font-size="7.6" baseline-shift="5">1</tspan></text><text x="615.16" y="393.85" font-size="11.2">R<tspan font-size="7.6" baseline-shift="5">1</tspan></text><text x="501.90" y="423.11" font-size="11.2" text-anchor="middle">S</text><text x="518.25" y="512.80" font-size="11.2" text-anchor="middle">S</text><text x="457.66" y="448.45" font-size="11.2">R<tspan font-size="7.6" baseline-shift="-2.8">1</tspan></text><text x="472.66" y="471.35" font-size="11.2">R<tspan font-size="7.6" baseline-shift="5">1</tspan></text><text x="538.86" y="463.65" font-size="11.2">R<tspan font-size="7.6" baseline-shift="5">1</tspan></text><text x="548.86" y="486.95" font-size="11.2">R<tspan font-size="7.6" baseline-shift="5">1</tspan></text><text x="93.56" y="629.20" font-size="11.2" text-anchor="middle">N</text><text x="89.99" y="654.32" font-size="11.2" text-anchor="middle">N</text><text x="82.65" y="640.46" font-size="11.2" text-anchor="middle">S</text><text x="171.22" y="597.94" font-size="11.2" text-anchor="middle">N</text><text x="191.20" y="613.58" font-size="11.2" text-anchor="middle">N</text><text x="186.89" y="598.50" font-size="11.2" text-anchor="middle">S</text><text x="106.26" y="579.84" font-size="11.2" text-anchor="end">R<tspan font-size="7.6" baseline-shift="5">2</tspan>O</text><text x="126.65" y="568.12" font-size="11.2">OR<tspan font-size="7.6" baseline-shift="5">2</tspan></text><text x="388.04" y="710.08" font-size="11.2" text-anchor="middle">N</text><text x="391.58" y="684.83" font-size="11.2" text-anchor="middle">N</text><text x="398.98" y="698.74" font-size="11.2" text-anchor="middle">S</text><text x="310.04" y="741.59" font-size="11.2" text-anchor="middle">N</text><text x="289.95" y="725.89" font-size="11.2" text-anchor="middle">N</text><text x="294.29" y="741.04" font-size="11.2" text-anchor="middle">S</text><text x="375.36" y="759.69" font-size="11.2">OR<tspan font-size="7.6" baseline-shift="5">2</tspan></text><text x="354.85" y="771.49" font-size="11.2" text-anchor="end">R<tspan font-size="7.6" baseline-shift="5">2</tspan>O</text><text x="127.64" y="688.58" font-size="11.2" text-anchor="middle">S</text><text x="117.16" y="778.73" font-size="11.2" text-anchor="middle">S</text><text x="78.46" y="708.45" font-size="11.2">R<tspan font-size="7.6" baseline-shift="5">1</tspan></text><text x="81.16" y="723.65" font-size="11.2">R<tspan font-size="7.6" baseline-shift="5">1</tspan></text><text x="154.56" y="741.95" font-size="11.2">R<tspan font-size="7.6" baseline-shift="5">1</tspan></text><text x="157.26" y="757.35" font-size="11.2">R<tspan font-size="7.6" baseline-shift="5">1</tspan></text><text x="203.24" y="643.31" font-size="11.2" text-anchor="middle">S</text><text x="278.21" y="696.80" font-size="11.2" text-anchor="middle">S</text><text x="195.16" y="691.35" font-size="11.2">R<tspan font-size="7.6" baseline-shift="5">1</tspan></text><text x="210.56" y="696.05" font-size="11.2">R<tspan font-size="7.6" baseline-shift="5">1</tspan></text><text x="262.26" y="641.95" font-size="11.2">R<tspan font-size="7.6" baseline-shift="5">1</tspan></text><text x="277.26" y="647.35" font-size="11.2">R<tspan font-size="7.6" baseline-shift="5">1</tspan></text><text x="363.28" y="560.13" font-size="11.2" text-anchor="middle">S</text><text x="354.22" y="651.82" font-size="11.2" text-anchor="middle">S</text><text x="314.76" y="580.95" font-size="11.2">R<tspan font-size="7.6" baseline-shift="5">1</tspan></text><text x="317.46" y="596.15" font-size="11.2">R<tspan font-size="7.6" baseline-shift="5">1</tspan></text><text x="390.96" y="614.65" font-size="11.2">R<tspan font-size="7.6" baseline-shift="5">1</tspan></text><text x="393.86" y="630.05" font-size="11.2">R<tspan font-size="7.6" baseline-shift="5">1</tspan></text><text x="159.60" y="44.20" font-size="11.2" text-anchor="start">(1) <tspan font-style="italic">n</tspan>-BuLi</text><text x="159.60" y="58.20" font-size="11.2" text-anchor="start">(2) Bu<tspan font-size="7.6" baseline-shift="-2.8">3</tspan>SnCl</text><text x="163.00" y="83.20" font-size="11.2" text-anchor="start">THF, -78 ℃</text><text x="56.70" y="116.50" font-size="11" text-anchor="middle" font-weight="bold">1</text><text x="374.70" y="119.30" font-size="11" text-anchor="middle" font-weight="bold">2</text><text x="448.00" y="252.30" font-size="11" text-anchor="middle" font-weight="bold">3</text><text x="236.80" y="410.60" font-size="11" text-anchor="middle" font-weight="bold">4</text><text x="141.80" y="518.30" font-size="11" text-anchor="middle" font-weight="bold">5</text><text x="504.20" y="543.10" font-size="11" text-anchor="middle" font-weight="bold">VG1</text><text x="236.00" y="782.50" font-size="11" text-anchor="middle" font-weight="bold">VG2</text><text x="34.5" y="134.4" font-size="11">R<tspan font-size="7.6" baseline-shift="5">1</tspan> = hexyl</text><text x="34.5" y="149.2" font-size="11">R<tspan font-size="7.6" baseline-shift="5">2</tspan> = octyl</text><text x="364.30" y="188.20" font-size="11.2" text-anchor="end">Pd(PPh<tspan font-size="7.6" baseline-shift="-2.8">3</tspan>)<tspan font-size="7.6" baseline-shift="-2.8">4</tspan> (10 mol%)</text><text x="364.30" y="201.20" font-size="11.2" text-anchor="end">toluene, refiux</text><text x="247.00" y="474.00" font-size="11.2" text-anchor="start">Pd(PPh<tspan font-size="7.6" baseline-shift="-2.8">3</tspan>)<tspan font-size="7.6" baseline-shift="-2.8">4</tspan> (10 mol%)</text><text x="247.00" y="488.00" font-size="11.2" text-anchor="start">toluene, refiux</text></g></svg></body></html>
